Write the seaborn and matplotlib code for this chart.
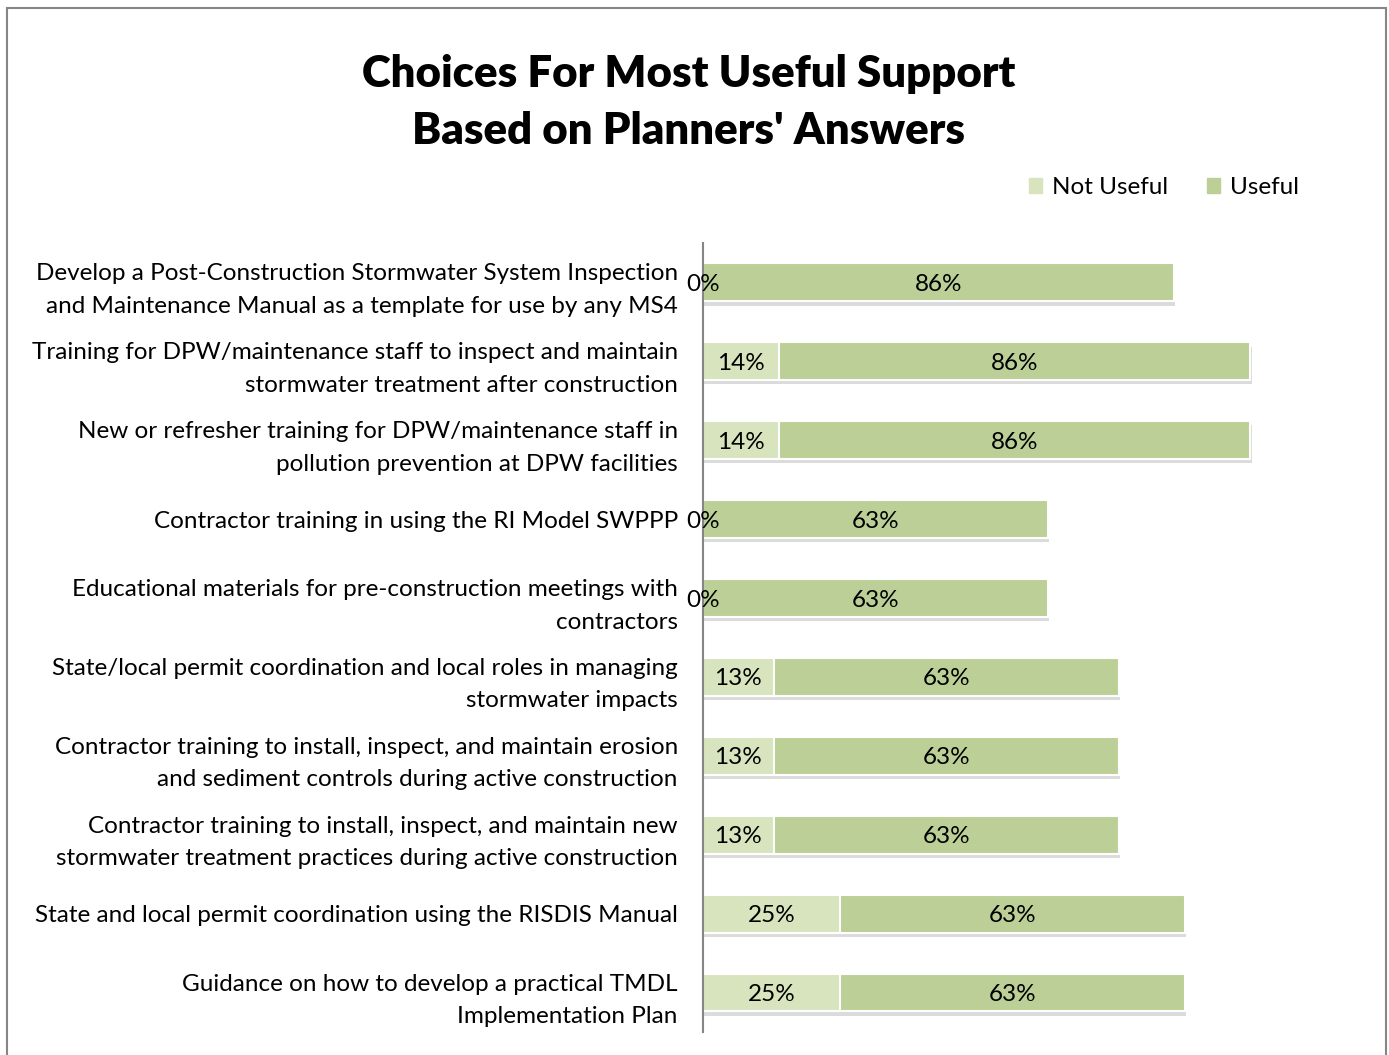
import pandas as pd
import seaborn as sns
import matplotlib.pyplot as plt
import matplotlib.patheffects as pe
from matplotlib.patches import Rectangle, Patch

# chart data
categories = [
    "Develop a Post-Construction Stormwater System Inspection\nand Maintenance Manual as a template for use by any MS4",
    "Training for DPW/maintenance staff to inspect and maintain\nstormwater treatment after construction",
    "New or refresher training for DPW/maintenance staff in\npollution prevention at DPW facilities",
    "Contractor training in using the RI Model SWPPP",
    "Educational materials for pre-construction meetings with\ncontractors",
    "State/local permit coordination and local roles in managing\nstormwater impacts",
    "Contractor training to install, inspect, and maintain erosion\nand sediment controls during active construction",
    "Contractor training to install, inspect, and maintain new\nstormwater treatment practices during active construction",
    "State and local permit coordination using the RISDIS Manual",
    "Guidance on how to develop a practical TMDL\nImplementation Plan",
]
not_useful = [0, 14, 14, 0, 0, 13, 13, 13, 25, 25]
useful = [86, 86, 86, 63, 63, 63, 63, 63, 63, 63]

c_not = "#D7E4BD"
c_use = "#BBCF96"

df = pd.DataFrame({"item": categories, "Not Useful": not_useful, "Useful": useful})
df["total"] = df["Not Useful"] + df["Useful"]

sns.set_style("white")
plt.rcParams["font.family"] = ["Lato", "DejaVu Sans"]
plt.rcParams["text.color"] = "black"
plt.rcParams["ytick.color"] = "black"

fig = plt.figure(figsize=(13.89, 10.55), dpi=100)
ax = fig.add_axes([0.506, 0.0218, 0.4335, 0.7479])

shadow = [pe.SimplePatchShadow(offset=(1, -3), shadow_rgbFace="#999999", alpha=0.35), pe.Normal()]

#useful drawn as full length, not useful laid over it from zero
sns.barplot(data=df, y="item", x="total", color=c_use, saturation=1, width=0.48,
            edgecolor="white", linewidth=1.5, ax=ax, orient="h")
for p in ax.patches:
    p.set_path_effects(shadow)
sns.barplot(data=df, y="item", x="Not Useful", color=c_not, saturation=1, width=0.48,
            edgecolor="white", linewidth=1.5, ax=ax, orient="h")

fs = 17.5
for i, (a, b) in enumerate(zip(not_useful, useful)):
    ax.text(a / 2, i, f"{a}%", ha="center", va="center_baseline", fontsize=fs)
    ax.text(a + b / 2, i, f"{b}%", ha="center", va="center_baseline", fontsize=fs)

ax.set_xlim(0, 110)
ax.set_ylim(9.5, -0.5)
ax.set_xlabel("")
ax.set_ylabel("")
ax.set_xticks([])
ax.tick_params(axis="y", length=0, pad=18, labelsize=fs)
for lab in ax.get_yticklabels():
    lab.set_linespacing(1.68)
for s in ["top", "right", "bottom"]:
    ax.spines[s].set_visible(False)
ax.spines["left"].set_color("#868686")
ax.spines["left"].set_linewidth(1.5)

fig.text(0.496, 0.903, "Choices For Most Useful Support\nBased on Planners' Answers",
         ha="center", va="center", fontsize=31.5, fontweight="heavy", linespacing=1.5)

handles = [Patch(color=c_not, label="Not Useful"), Patch(color=c_use, label="Useful")]
fig.legend(handles=handles, loc="center", bbox_to_anchor=(0.838, 0.822), ncol=2, frameon=False,
           fontsize=fs, handlelength=0.55, handleheight=0.55, handletextpad=0.4, columnspacing=1.6)

fig.patches.append(Rectangle((0.005, -0.01), 0.993, 1.0024, transform=fig.transFigure,
                             fill=False, edgecolor="#868686", linewidth=1.5))

fig.savefig("out.png", dpi=100)
